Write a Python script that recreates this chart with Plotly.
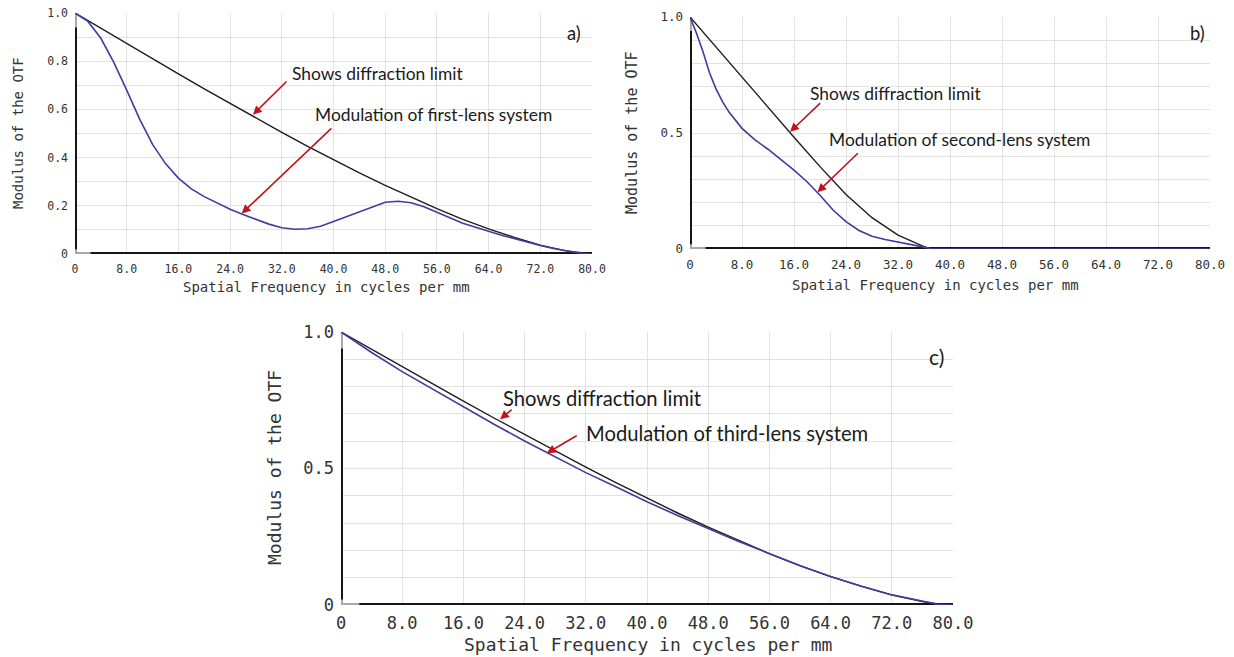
import plotly.graph_objects as go

W, H = 1234, 657

# ---------------- data ----------------
x_ticks = [0, 8, 16, 24, 32, 40, 48, 56, 64, 72, 80]
x_tick_text = ["0", "8.0", "16.0", "24.0", "32.0", "40.0", "48.0", "56.0", "64.0", "72.0", "80.0"]
y_ticks = [0, 0.1, 0.2, 0.3, 0.4, 0.5, 0.6, 0.7, 0.8, 0.9, 1.0]
y_text_a = ["0", "", "0.2", "", "0.4", "", "0.6", "", "0.8", "", "1.0"]
y_text_bc = ["0", "", "", "", "", "0.5", "", "", "", "", "1.0"]

# panel a
freq_diff_a = [0, 4, 8, 12, 16, 20, 24, 28, 32, 36, 40, 44, 48, 52, 56, 60, 64, 68, 72, 76, 80]
mtf_diff_a = [1.0, 0.936, 0.873, 0.810, 0.747, 0.685, 0.624, 0.564, 0.505, 0.447, 0.391,
              0.337, 0.285, 0.235, 0.188, 0.144, 0.104, 0.069, 0.037, 0.013, 0.0]
freq_lens_a = [0, 2, 4, 6, 8, 10, 12, 14, 16, 18, 20, 22, 24, 26, 28, 30, 32, 34, 36, 38, 40,
               42, 44, 46, 48, 50, 52, 54, 56, 58, 60, 62, 64, 66, 68, 70, 72, 74, 76, 78, 80]
mtf_lens_a = [1.000, 0.965, 0.895, 0.795, 0.680, 0.560, 0.455, 0.375, 0.315, 0.270, 0.238,
              0.212, 0.186, 0.164, 0.143, 0.124, 0.109, 0.103, 0.105, 0.115, 0.135,
              0.155, 0.178, 0.198, 0.215, 0.219, 0.213, 0.196, 0.172, 0.150, 0.128,
              0.110, 0.094, 0.078, 0.063, 0.049, 0.035, 0.023, 0.012, 0.004, 0.000]

# panel b
freq_diff_b = [0, 4, 8, 12, 16, 20, 24, 28, 32, 36, 37.2, 80]
mtf_diff_b = [1.0, 0.870, 0.740, 0.610, 0.482, 0.355, 0.235, 0.135, 0.060, 0.010, 0.0, 0.0]
freq_lens_b = [0, 1, 2, 3, 4, 5, 6, 8, 10, 12, 14, 16, 18, 20, 22, 24, 26, 28, 30, 32, 34, 36, 37.2, 80]
mtf_lens_b = [1.0, 0.93, 0.85, 0.76, 0.69, 0.635, 0.59, 0.52, 0.47, 0.43, 0.385, 0.34,
              0.29, 0.232, 0.168, 0.118, 0.08, 0.055, 0.041, 0.031, 0.021, 0.008, 0.0, 0.0]

# panel c
freq_c = [0, 4, 8, 12, 16, 20, 24, 28, 32, 36, 40, 44, 48, 52, 56, 60, 64, 68, 72, 76, 78, 80]
mtf_diff_c = [1.0, 0.936, 0.873, 0.810, 0.747, 0.685, 0.624, 0.564, 0.505, 0.447, 0.391,
              0.337, 0.285, 0.235, 0.188, 0.144, 0.104, 0.069, 0.037, 0.013, 0.004, 0.0]
mtf_lens_c = [1.0, 0.925, 0.855, 0.790, 0.725, 0.662, 0.601, 0.542, 0.485, 0.432, 0.378,
              0.328, 0.280, 0.233, 0.188, 0.144, 0.104, 0.069, 0.037, 0.013, 0.003, 0.0]

label_diff = "Shows diffraction limit"
labels_lens = ["Modulation of first-lens system", "Modulation of second-lens system",
               "Modulation of third-lens system"]
panel_tags = ["a)", "b)", "c)"]

# ---------------- styling ----------------
BLACK = "#1c1c1c"
BLUE = "#3d3d9e"
RED = "#c0141c"
GRID = "#e2e2e2"
MONO = "DejaVu Sans Mono"
SANS = "Lato"


def px(x):
    return x / W


def py(y):
    return 1 - y / H


panels = [
    dict(xd=[px(75), px(592)], yd=[py(254), py(13)], ytext=y_text_a, tick=11.5, title=14, ytitle=14,
         xt=(326, 287), yt=(18, 133), fx=freq_diff_a, fy=mtf_diff_a, lx=freq_lens_a, ly=mtf_lens_a,
         txt=17.4, tag=(77.2, 0.917),
         t1=(33.3, 0.751), t2=(36.8, 0.577),
         a1=((32.96, 0.722), (27.54, 0.578)), a2=((39.9, 0.527), (25.8, 0.168))),
    dict(xd=[px(690), px(1210)], yd=[py(249), py(17)], ytext=y_text_bc, tick=12.5, title=14, ytitle=15,
         xt=(935, 285), yt=(632, 133), fx=freq_diff_b, fy=mtf_diff_b, lx=freq_lens_b, ly=mtf_lens_b,
         txt=17.4, tag=(78.0, 0.931),
         t1=(18.15, 0.672), t2=(21.1, 0.47),
         a1=((20.26, 0.635), (15.4, 0.505)), a2=((26.05, 0.419), (19.6, 0.245))),
    dict(xd=[px(341), px(953)], yd=[py(605), py(332)], ytext=y_text_bc, tick=17, title=18, ytitle=18,
         xt=(648, 644), yt=(274, 468), fx=freq_c, fy=mtf_diff_c, lx=freq_c, ly=mtf_lens_c,
         txt=20.2, tag=(77.8, 0.909),
         t1=(20.9, 0.757), t2=(31.7, 0.629),
         a1=((22.5, 0.720), (20.8, 0.680)), a2=((31.0, 0.623), (26.9, 0.556))),
]

fig = go.Figure()
shapes = []
annotations = []

for i, p in enumerate(panels):
    n = "" if i == 0 else str(i + 1)
    xa, ya = "x" + n, "y" + n
    fig.add_trace(go.Scatter(x=p["fx"], y=p["fy"], mode="lines", xaxis=xa, yaxis=ya,
                             line=dict(color=BLACK, width=1.4), cliponaxis=False, hoverinfo="skip"))
    fig.add_trace(go.Scatter(x=p["lx"], y=p["ly"], mode="lines", xaxis=xa, yaxis=ya,
                             line=dict(color=BLUE, width=1.6), cliponaxis=False, hoverinfo="skip"))

    fig.update_layout(**{
        "xaxis" + n: dict(domain=p["xd"], anchor=ya, range=[0, 80], tickmode="array",
                          tickvals=x_ticks, ticktext=x_tick_text, showgrid=True, gridcolor=GRID,
                          gridwidth=1, zeroline=False, showline=False, ticks="", automargin=False,
                          ticklabelstandoff=6,
                          tickfont=dict(family=MONO, size=p["tick"], color="#333")),
        "yaxis" + n: dict(domain=p["yd"], anchor=xa, range=[0, 1], tickmode="array",
                          tickvals=y_ticks, ticktext=p["ytext"], showgrid=True, gridcolor=GRID,
                          gridwidth=1, zeroline=False, showline=False, ticks="", automargin=False,
                          ticklabelstandoff=6,
                          tickfont=dict(family=MONO, size=p["tick"], color="#333")),
    })

    # axis lines (shapes are clipped to the plot area, so half of the width shows)
    shapes += [
        dict(type="line", xref=xa, yref=ya, x0=0, x1=80, y0=0, y1=0, layer="between",
             line=dict(color="#a8a8a8", width=4)),
        dict(type="line", xref=xa, yref=ya, x0=2.4, x1=80, y0=0, y1=0, layer="between",
             line=dict(color="#151515", width=4)),
        dict(type="line", xref=xa, yref=ya, x0=0, x1=0, y0=0, y1=1, layer="between",
             line=dict(color="#a8a8a8", width=4)),
        dict(type="line", xref=xa, yref=ya, x0=0, x1=0, y0=0.02, y1=0.94, layer="between",
             line=dict(color="#151515", width=4)),
    ]

    annotations.append(dict(xref="paper", yref="paper", x=px(p["xt"][0]), y=py(p["xt"][1]),
                            text="Spatial Frequency in cycles per mm", showarrow=False,
                            xanchor="center", yanchor="middle",
                            font=dict(family=MONO, size=p["title"], color="#333")))
    annotations.append(dict(xref="paper", yref="paper", x=px(p["yt"][0]), y=py(p["yt"][1]),
                            text="Modulus of the OTF", showarrow=False, textangle=-90,
                            xanchor="center", yanchor="middle",
                            font=dict(family=MONO, size=p["ytitle"], color="#333")))

    annotations.append(dict(xref=xa, yref=ya, x=p["t1"][0], y=p["t1"][1], text=label_diff,
                            showarrow=False, xanchor="left", yanchor="middle",
                            font=dict(family=SANS, size=p["txt"], color="#1a1a1a")))
    annotations.append(dict(xref=xa, yref=ya, x=p["t2"][0], y=p["t2"][1], text=labels_lens[i],
                            showarrow=False, xanchor="left", yanchor="middle",
                            font=dict(family=SANS, size=p["txt"], color="#1a1a1a")))
    annotations.append(dict(xref=xa, yref=ya, x=p["tag"][0], y=p["tag"][1], text=panel_tags[i],
                            showarrow=False, xanchor="center", yanchor="middle",
                            font=dict(family=SANS, size=p["txt"] + 1, color="#1a1a1a")))
    for (tail, head) in (p["a1"], p["a2"]):
        annotations.append(dict(xref=xa, yref=ya, axref=xa, ayref=ya, x=head[0], y=head[1],
                                ax=tail[0], ay=tail[1], text="", showarrow=True,
                                arrowhead=2, arrowsize=1.1, arrowwidth=1.6, arrowcolor=RED,
                                standoff=0, startstandoff=0))

fig.update_layout(width=W, height=H, margin=dict(l=0, r=0, t=0, b=0, pad=0, autoexpand=False),
                  paper_bgcolor="white", plot_bgcolor="white", showlegend=False,
                  shapes=shapes, annotations=annotations)

fig.write_html("out.html",
               post_script="document.body.style.margin='0';"
                           "document.documentElement.style.overflow='hidden';")
